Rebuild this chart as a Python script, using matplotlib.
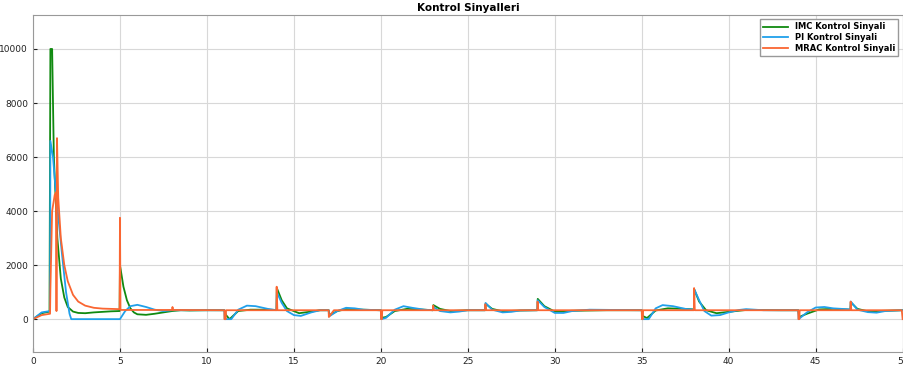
import matplotlib.pyplot as plt

# breakpoints (time in s, control signal)
imc_t = [0, 0.5, 0.95, 1.0, 1.1, 1.2, 1.4, 1.6, 1.8, 2.0, 2.3, 2.6, 3.0, 3.5, 4.0, 4.5, 4.98,
         5.0, 5.2, 5.4, 5.6, 5.8, 6.0, 6.5, 7.0, 7.5, 8.0, 8.5, 9.0, 10.0, 11.0, 11.1, 11.3,
         11.8, 12.5, 13.5, 14.0, 14.02, 14.3, 14.6, 15.3, 16.0, 16.5, 17.0, 17.05, 17.5, 18.0,
         19.0, 20.0, 20.05, 20.3, 20.8, 21.5, 22.5, 23.0, 23.02, 23.4, 24.0, 25.0, 26.0, 26.02,
         26.4, 27.0, 28.0, 29.0, 29.02, 29.4, 30.0, 31.0, 33.0, 35.0, 35.05, 35.3, 35.8, 36.5,
         37.5, 38.0, 38.02, 38.3, 38.7, 39.3, 40.0, 41.0, 43.0, 44.0, 44.05, 44.5, 45.2, 46.0,
         47.0, 47.02, 47.4, 48.0, 49.0, 50.0]
imc_u = [0, 220, 280, 10000, 10000, 6000, 3000, 1500, 800, 450, 280, 230, 220, 250, 270, 290, 300,
         2000, 1200, 700, 400, 250, 180, 160, 200, 250, 300, 330, 320, 330, 330, 150, 0,
         300, 350, 350, 340, 1150, 700, 400, 220, 280, 330, 330, 150, 300, 370,
         350, 330, 50, 80, 300, 380, 350, 330, 520, 380, 300, 330, 330, 570,
         380, 290, 320, 330, 750, 480, 280, 310, 330, 330, 120, 40, 320, 400,
         380, 360, 1100, 650, 330, 220, 270, 340, 330, 330, 80, 200, 360, 380,
         350, 620, 380, 290, 310, 330]

pi_t = [0, 0.5, 0.98, 1.0, 1.15, 1.3, 1.5, 1.7, 1.9, 2.1, 2.2, 5.0, 5.3, 5.6, 6.0, 6.5, 7.0,
        7.5, 8.0, 11.0, 11.02, 11.4, 11.8, 12.3, 12.8, 13.5, 14.0, 14.02, 14.3, 14.6, 15.0,
        15.4, 16.0, 16.5, 17.0, 17.02, 17.5, 18.0, 18.5, 19.0, 20.0, 20.02, 20.3, 20.8, 21.3,
        21.8, 22.5, 23.0, 23.02, 23.4, 24.0, 24.5, 25.0, 26.0, 26.02, 26.4, 27.0, 27.5, 28.0,
        29.0, 29.02, 29.4, 30.0, 30.5, 31.0, 32.0, 35.0, 35.02, 35.4, 35.8, 36.2, 36.8, 37.5,
        38.0, 38.02, 38.3, 38.6, 39.0, 39.5, 40.0, 40.6, 41.0, 42.0, 44.0, 44.02, 44.5, 45.0,
        45.5, 46.0, 47.0, 47.02, 47.4, 48.0, 48.5, 49.0, 50.0]
pi_u = [0, 250, 300, 6600, 6000, 4800, 3500, 2200, 1000, 200, 0, 0, 300, 480, 530, 450, 350,
        300, 330, 330, 0, 0, 350, 500, 480, 380, 330, 1000, 600, 300, 150,
        120, 250, 330, 330, 100, 300, 420, 400, 350, 330, 0, 50, 350, 480,
        420, 350, 330, 450, 300, 250, 280, 330, 330, 600, 350, 250, 270, 320,
        330, 700, 450, 230, 230, 300, 350, 330, 0, 0, 400, 520, 480, 380,
        350, 1100, 700, 300, 130, 150, 250, 340, 370, 330, 330, 0, 250, 430,
        450, 400, 360, 650, 350, 260, 240, 300, 330]

mrac_t = [0, 0.5, 0.98, 1.0, 1.1, 1.25, 1.33, 1.35, 1.38, 1.45, 1.6, 1.8, 2.0, 2.3, 2.6, 3.0,
          3.5, 4.0, 4.98, 5.0, 5.03, 8.0, 8.02, 8.05, 11.0, 11.01, 11.08, 11.1, 14.0, 14.01,
          14.05, 17.0, 17.01, 17.3, 20.0, 20.01, 20.06, 20.08, 23.0, 23.01, 23.05, 26.0, 26.01,
          26.05, 29.0, 29.01, 29.05, 35.0, 35.01, 35.06, 35.08, 38.0, 38.01, 38.05, 44.0, 44.01,
          44.06, 44.08, 47.0, 47.01, 47.05, 49.95, 50.0]
mrac_u = [0, 150, 200, 1100, 4000, 4600, 4700, 300, 6700, 4500, 3000, 2000, 1400, 900, 650, 500,
          420, 390, 370, 3750, 340, 340, 450, 340, 330, 0, 0, 330, 330, 1200,
          330, 330, 80, 330, 330, 0, 0, 330, 330, 500, 330, 330, 550,
          330, 330, 650, 330, 330, 0, 0, 330, 330, 1150, 330, 330, 0,
          0, 330, 330, 650, 330, 330, 0]

fig = plt.figure(figsize=(9.04, 3.73), dpi=100)
ax = fig.add_axes([0.0365, 0.056, 0.962, 0.904])

ax.plot(imc_t, imc_u, color='#108a10', lw=1.3, label='IMC Kontrol Sinyali')
ax.plot(pi_t, pi_u, color='#20a0ea', lw=1.3, label='PI Kontrol Sinyali')
ax.plot(mrac_t, mrac_u, color='#fa6632', lw=1.3, label='MRAC Kontrol Sinyali')

ax.set_xlim(0, 50)
ax.set_ylim(-1220, 11260)
ax.set_xticks(range(0, 51, 5))
ax.set_yticks(range(0, 10001, 2000))
ax.tick_params(direction='in', labelsize=6.5, length=3, colors='#222222')
ax.grid(True, color='#d8d8d8', lw=0.8)
for s in ax.spines.values():
    s.set_color('#999999')
ax.set_title('Kontrol Sinyalleri', fontsize=7.5, fontweight='bold', pad=3)
ax.legend(loc='upper right', fontsize=6, prop={'weight': 'bold', 'size': 6},
          fancybox=False, edgecolor='#999999', framealpha=1, handlelength=3,
          borderpad=0.4, labelspacing=0.2)

fig.savefig('out.png', dpi=100)
